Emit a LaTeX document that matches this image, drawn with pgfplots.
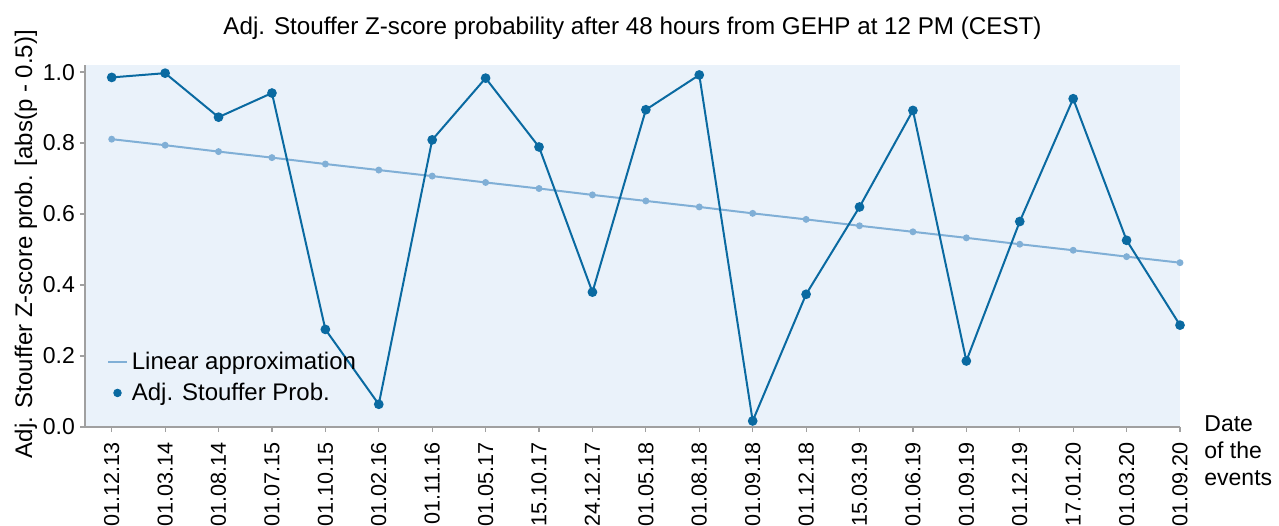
\documentclass[border=0pt]{standalone}
\usepackage{fontspec}
\setmainfont{Liberation Sans}
\usepackage{pgfplots}
\pgfplotsset{compat=1.18}
\definecolor{darkb}{HTML}{0A6AA1}
\definecolor{lightb}{HTML}{80AFD6}
\definecolor{bgb}{HTML}{EAF2FA}
\definecolor{axgray}{HTML}{A0A0A0}
\begin{document}
\begin{tikzpicture}
\useasboundingbox (-42.5pt,-49pt) rectangle (597pt,213.5pt);
\begin{axis}[
  scale only axis,
  width=547.5pt, height=181pt,
  xmin=-0.5, xmax=20, ymin=0, ymax=1.02,
  axis background/.style={fill=bgb},
  axis x line=bottom, axis y line=left,
  axis line style={draw=axgray, line width=0.6pt, -},
  tick style={draw=axgray, line width=0.6pt},
  tick align=outside,
  major tick length=2.5pt,
  xtick={0,...,20},
  xticklabels={01.12.13,01.03.14,01.08.14,01.07.15,01.10.15,01.02.16,01.11.16,01.05.17,15.10.17,24.12.17,01.05.18,01.08.18,01.09.18,01.12.18,15.03.19,01.06.19,01.09.19,01.12.19,17.01.20,01.03.20,01.09.20},
  xticklabel style={rotate=90, anchor=east, font=\fontsize{10.8}{13}\selectfont, xshift=-1.5pt},
  ytick={0,0.2,0.4,0.6,0.8,1.0},
  yticklabel style={font=\fontsize{11.5}{13}\selectfont, xshift=1pt},
  /pgf/number format/.cd, fixed, fixed zerofill, precision=1, assume math mode=true,
  /pgfplots/.cd,
  ylabel={Adj. Stouffer Z-score prob. [abs(p - 0.5)]},
  ylabel style={font=\fontsize{12}{14}\selectfont, at={(ticklabel cs:0.505)}, yshift=-4pt},
  title={Adj. Stouffer Z-score probability after 48 hours from GEHP at 12 PM (CEST)},
  title style={font=\fontsize{12.1}{14}\selectfont, yshift=3pt},
  legend style={at={(rel axis cs:0.018,0.225)}, anchor=north west, draw=none, fill=none,
    font=\fontsize{12}{14}\selectfont, row sep=1.2pt, inner sep=1pt},
  legend cell align=left,
  clip=false,
]
\addlegendimage{legend image code/.code={\draw[lightb, line width=1pt] (0cm,0cm) -- (0.33cm,0cm);}}
\addlegendentry{Linear approximation}
\addlegendimage{legend image code/.code={\fill[darkb] (0.165cm,0cm) circle (1.9pt);}}
\addlegendentry{Adj. Stouffer Prob.}
\addplot[forget plot, lightb, line width=1pt, mark=*, mark size=1.2pt, mark options={draw=lightb, fill=lightb}] coordinates {
(0,0.811)(1,0.794)(2,0.776)(3,0.759)(4,0.741)(5,0.724)(6,0.707)(7,0.689)(8,0.672)(9,0.654)(10,0.637)
(11,0.620)(12,0.602)(13,0.585)(14,0.567)(15,0.550)(16,0.533)(17,0.515)(18,0.498)(19,0.480)(20,0.463)};
\addplot[forget plot, darkb, line width=1pt, mark=*, mark size=1.9pt, mark options={draw=darkb, fill=darkb}] coordinates {
(0,0.985)(1,0.997)(2,0.873)(3,0.941)(4,0.275)(5,0.064)(6,0.809)(7,0.983)(8,0.789)(9,0.380)(10,0.894)
(11,0.992)(12,0.017)(13,0.374)(14,0.620)(15,0.892)(16,0.186)(17,0.579)(18,0.925)(19,0.526)(20,0.287)};
\node[anchor=north west, align=left, font=\fontsize{11.5}{13.5}\selectfont, inner sep=0pt] at ([xshift=12pt,yshift=6pt]rel axis cs:1,0) {Date\\of the\\events};
\end{axis}
\end{tikzpicture}
\end{document}
